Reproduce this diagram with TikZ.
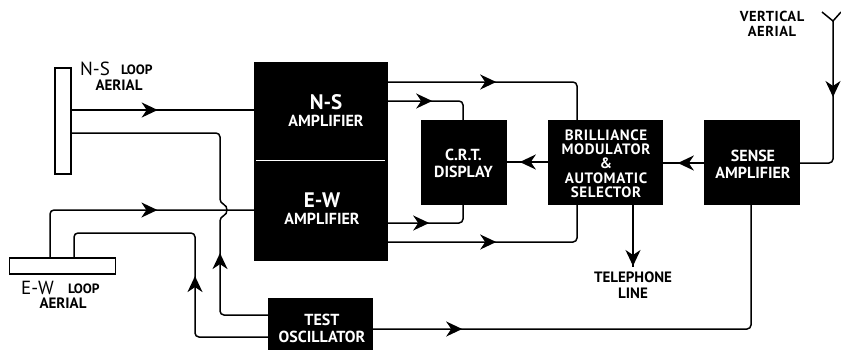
\documentclass[tikz,border=0pt]{standalone}
\usepackage{fontspec}
\setmainfont{PT Sans}
\usetikzlibrary{arrows.meta,decorations.markings}
\newcommand{\lab}{\fontsize{16}{17}\selectfont\bfseries}
\newcommand{\tightlab}{\fontsize{15}{14.3}\selectfont\bfseries\addfontfeature{LetterSpace=4}}
\newcommand{\biglab}{\fontsize{21}{17}\selectfont\bfseries}
\newcommand{\midlab}{\fontsize{19}{17}\selectfont}
\newcommand{\loopl}{\fontsize{13.5}{14}\selectfont\bfseries}
\tikzset{
  wire/.style={line width=1.5pt,black,rounded corners=4pt},
  blk/.style={fill=black,draw=black,inner sep=0pt},
  wtxt/.style={text=white,inner sep=0pt,align=center,font=\lab},
  aer/.style={fill=white,draw=black,line width=1.4pt,inner sep=0pt},
  lbl/.style={inner sep=0pt,text=black,font=\lab},
  tipat/.style={postaction={decorate,decoration={markings,mark=at position #1 with {\arrow{Stealth[length=16pt,width=15pt,inset=5pt]}}}}},
}
\begin{document}
\begin{tikzpicture}[x=1pt,y=-1pt]
\useasboundingbox (0,0) rectangle (841,349);
% blocks
\node[blk,minimum width=133pt,minimum height=198pt] (amp) at (320.5,161) {};
\draw[white,line width=1.4pt] (256,160.5) -- (385,160.5);
\node[wtxt,font=\biglab] (nsa) at (326,102) {N-S};
\node[wtxt] (nsb) at (326,121) {AMPLIFIER};
\node[wtxt,font=\biglab] (ewa) at (322,200) {E-W};
\node[wtxt] (ewb) at (322,219) {AMPLIFIER};
\node[blk,minimum width=85pt,minimum height=84pt] (crt) at (463.5,162) {};
\node[wtxt] (crtt) at (463.5,163.5) {C.R.T.\\DISPLAY};
\node[blk,minimum width=114pt,minimum height=84pt] (bri) at (605,162) {};
\node[wtxt,font=\tightlab] (brit) at (606,163.5) {BRILLIANCE\\MODULATOR\\\&\\AUTOMATIC\\SELECTOR};
\node[blk,minimum width=95pt,minimum height=84pt] (sen) at (751.5,162) {};
\node[wtxt] (sent) at (753,164.5) {SENSE\\AMPLIFIER};
\node[blk,minimum width=104pt,minimum height=51pt,anchor=north] (osc) at (320,298) {};
\node[wtxt] (osct) at (322,320) {TEST};
\node[wtxt] (oscb) at (322,337) {OSCILLATOR};
% aerials
\node[aer,minimum width=16pt,minimum height=106pt] (nsl) at (63,121) {};
\node[aer,minimum width=106pt,minimum height=16pt] (ewl) at (62.5,266) {};
\coordinate (vert) at (833,21);
\coordinate (armL) at (822,12);
\coordinate (armR) at (841,12);
% labels
\node[lbl,anchor=west,font=\midlab] (l1a) at (80,69) {N-S};
\node[lbl,anchor=west,font=\loopl] (l1b) at (121,70) {LOOP};
\node[lbl,font=\fontsize{15}{17}\selectfont\bfseries] (l2) at (119,85.5) {AERIAL};
\node[lbl,anchor=west,font=\midlab] (l3a) at (21,288) {E-W};
\node[lbl,anchor=west,font=\loopl] (l3b) at (68,289) {LOOP};
\node[lbl,font=\fontsize{15}{17}\selectfont\bfseries] (l4) at (63,303) {AERIAL};
\node[lbl,font=\fontsize{14.5}{14.5}\selectfont\bfseries\addfontfeature{LetterSpace=4},align=center] (l5) at (772,24) {VERTICAL\\AERIAL};
\node[lbl,font=\fontsize{15}{16}\selectfont\bfseries,align=center] (l6) at (633,285) {TELEPHONE\\LINE};
% connectors
\draw[wire,tipat=86pt] (nsl.east |- 0,110) -- (amp.west |- 0,110);
\draw[wire,tipat=108pt]
  (osc.west |- 0,315) -- (220,315) -- (220,217)
  .. controls (228,214) and (228,206) .. (220,203)
  -- (220,133) -- (nsl.east |- 0,133);
\draw[wire,tipat=153pt] (ewl.north -| 50,0) -- (50,210) -- (amp.west |- 0,210);
\draw[wire,tipat=132pt] (osc.west |- 0,337) -- (195,337) -- (195,233) -- (74,233) -- (ewl.north -| 74,0);
\draw[wire,tipat=109pt] (amp.east |- 0,82) -- (577,82) -- (bri.north -| 577,0);
\draw[wire,tipat=45pt] (amp.east |- 0,101) -- (463,101) -- (crt.north -| 463,0);
\draw[wire,tipat=42pt] (amp.east |- 0,223) -- (463,223) -- (crt.south -| 463,0);
\draw[wire,tipat=109pt] (amp.east |- 0,242) -- (577,242) -- (bri.south -| 577,0);
\draw[wire,tipat=28pt] (bri.west |- 0,162) -- (crt.east |- 0,162);
\draw[wire,tipat=26pt] (sen.west |- 0,163) -- (bri.east |- 0,163);
\draw[wire,tipat=76pt] (vert) -- (833,163) -- (sen.east |- 0,163);
\draw[wire,tipat=-1pt] (bri.south -| 633,0) -- (633,267);
\draw[wire,tipat=90pt] (osc.east |- 0,329) -- (751,329) -- (sen.south -| 751,0);
\draw[line width=1.5pt] (armL) -- (vert) -- (armR);
\end{tikzpicture}
\end{document}
